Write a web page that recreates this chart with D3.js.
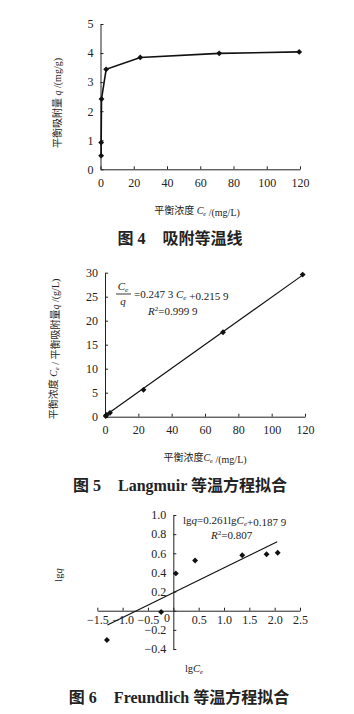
<!DOCTYPE html>
<html>
<head>
<meta charset="utf-8">
<script src="https://cdn.jsdelivr.net/npm/d3@7"></script>
<style>
  body { margin: 0; background: #fff; }
  text { font-family: "Liberation Serif", "Noto Sans CJK SC", serif; fill: #222; }
  .axis path, .axis line { stroke: #222; }
</style>
</head>
<body>
<svg id="fig" width="354" height="714"></svg>
<script>
//////////////////////////////////////////////////////////////////////////////
// Data

// Fig 4: adsorption isotherm
var ce4 = [0.4, 0.4, 0.6, 3.4, 23.9, 71.4, 119.5];
var q4  = [0.47, 0.92, 2.42, 3.44, 3.85, 3.99, 4.04];
var xTicks4 = [0, 20, 40, 60, 80, 100, 120];
var yTicks4 = [0, 1, 2, 3, 4, 5];

// Fig 5: Langmuir fit
var ce5 = [0.4, 0.9, 3.0, 23.1, 70.8, 118.6];
var ratio5 = [0.15, 0.35, 0.8, 5.6, 17.6, 29.6];
var fit5 = [[0, 0.22], [119, 29.6]];
var xTicks5 = [0, 20, 40, 60, 80, 100, 120];
var yTicks5 = [0, 5, 10, 15, 20, 25, 30];

// Fig 6: Freundlich fit
var lgce6 = [-1.31, -0.24, 0.05, 0.43, 1.36, 1.84, 2.06];
var lgq6  = [-0.306, -0.014, 0.39, 0.525, 0.58, 0.59, 0.605];
var fit6 = [[-1.3, -0.15], [2.05, 0.72]];
var xTicks6 = [-1.5, -1.0, -0.5, 0, 0.5, 1.0, 1.5, 2.0, 2.5];
var yTicks6 = [-0.4, -0.2, 0, 0.2, 0.4, 0.6, 0.8, 1.0];

//////////////////////////////////////////////////////////////////////////////

var svg = d3.select("#fig");
var diamond = d3.symbol().type(d3.symbolDiamond2).size(22);

function drawAxes(g, x, y, xt, yt, xFmt, yFmt, xAt, yAt, xPad)
{
    g.append("g")
        .attr("class", "axis")
        .attr("transform", "translate(0," + xAt + ")")
        .call(d3.axisBottom(x).tickValues(xt).tickSizeInner(-3).tickSizeOuter(0)
              .tickPadding(xPad).tickFormat(xFmt));
    g.append("g")
        .attr("class", "axis")
        .attr("transform", "translate(" + yAt + ",0)")
        .call(d3.axisLeft(y).tickValues(yt).tickSizeInner(-3).tickSizeOuter(0)
              .tickPadding(7).tickFormat(yFmt));
    g.selectAll(".axis text").attr("font-size", 12).attr("fill", "#222");
}

function points(g, xs, ys, x, y)
{
    g.append("g").selectAll("path")
        .data(xs)
        .enter()
        .append("path")
        .attr("d", diamond)
        .attr("fill", "#111")
        .attr("transform", function(d, i) { return "translate(" + x(d) + "," + y(ys[i]) + ")"; });
}

function caption(txt, cx, cy)
{
    var t = svg.append("text")
        .attr("x", cx).attr("y", cy)
        .attr("text-anchor", "middle")
        .attr("font-size", 16)
        .attr("font-weight", "bold")
        .attr("fill", "#111");
    t.append("tspan").text(txt[0]);
    t.append("tspan").attr("dx", 17).text(txt[1]);
}

// italic C with subscript e
function ceSpan(t)
{
    t.append("tspan").attr("font-style", "italic").text("C");
    t.append("tspan").attr("font-style", "italic").attr("font-size", "0.65em").attr("dy", 2).text("e");
    t.append("tspan").attr("dy", -2).text("");
}

//////////////////////////////////////////////////////////////////////////////
// Fig 4

var x4 = d3.scaleLinear().domain([0, 120]).range([100.5, 300]);
var y4 = d3.scaleLinear().domain([0, 5]).range([169.3, 24]);
var g4 = svg.append("g");
drawAxes(g4, x4, y4, xTicks4, yTicks4, d3.format("d"), d3.format("d"), y4(0), x4(0), 9);

g4.append("path")
    .datum(ce4)
    .attr("fill", "none")
    .attr("stroke", "#111")
    .attr("stroke-width", 1.6)
    .attr("d", d3.line().x(function(d) { return x4(d); }).y(function(d, i) { return y4(q4[i]); }));
points(g4, ce4, q4, x4, y4);

var t = g4.append("text").attr("font-size", 10)
    .attr("transform", "translate(61,103) rotate(-90)").attr("text-anchor", "middle");
t.append("tspan").text("平衡吸附量 ");
t.append("tspan").attr("font-style", "italic").text("q");
t.append("tspan").text(" /(mg/g)");

t = g4.append("text").attr("font-size", 10).attr("x", 197).attr("y", 214).attr("text-anchor", "middle");
t.append("tspan").text("平衡浓度 ");
ceSpan(t);
t.append("tspan").text(" /(mg/L)");

caption(["图 4", "吸附等温线"], 180, 244);

//////////////////////////////////////////////////////////////////////////////
// Fig 5

var x5 = d3.scaleLinear().domain([0, 120]).range([105, 305]);
var y5 = d3.scaleLinear().domain([0, 30]).range([416.7, 272.7]);
var g5 = svg.append("g");
drawAxes(g5, x5, y5, xTicks5, yTicks5, d3.format("d"), d3.format("d"), y5(0), x5(0), 9);

g5.append("path")
    .datum(fit5)
    .attr("fill", "none")
    .attr("stroke", "#111")
    .attr("stroke-width", 1.2)
    .attr("d", d3.line().x(function(d) { return x5(d[0]); }).y(function(d) { return y5(d[1]); }));
points(g5, ce5, ratio5, x5, y5);

// equation
g5.append("text").attr("x", 123).attr("y", 290).attr("text-anchor", "middle").attr("font-size", 11)
    .call(ceSpan);
g5.append("line").attr("x1", 116).attr("x2", 131).attr("y1", 294).attr("y2", 294)
    .attr("stroke", "#222").attr("stroke-width", 0.9);
g5.append("text").attr("x", 123).attr("y", 305).attr("text-anchor", "middle").attr("font-size", 11)
    .attr("font-style", "italic").text("q");
t = g5.append("text").attr("x", 134).attr("y", 298).attr("font-size", 11);
t.append("tspan").text("=0.247 3 ");
ceSpan(t);
t.append("tspan").text(" +0.215 9");
t = g5.append("text").attr("x", 148).attr("y", 315).attr("font-size", 11);
t.append("tspan").attr("font-style", "italic").text("R");
t.append("tspan").attr("font-size", "0.65em").attr("dy", -4).text("2");
t.append("tspan").attr("dy", 4).text("=0.999 9");

t = g5.append("text").attr("font-size", 10)
    .attr("transform", "translate(57,349) rotate(-90)").attr("text-anchor", "middle");
t.append("tspan").text("平衡浓度 ");
ceSpan(t);
t.append("tspan").text(" / 平衡吸附量");
t.append("tspan").attr("font-style", "italic").text("q");
t.append("tspan").text(" /(g/L)");

t = g5.append("text").attr("font-size", 10).attr("x", 205).attr("y", 461).attr("text-anchor", "middle");
t.append("tspan").text("平衡浓度");
ceSpan(t);
t.append("tspan").text(" /(mg/L)");

caption(["图 5", "Langmuir 等温方程拟合"], 180, 491);

//////////////////////////////////////////////////////////////////////////////
// Fig 6

var x6 = d3.scaleLinear().domain([-1.5, 2.5]).range([97.3, 300]);
var y6 = d3.scaleLinear().domain([-0.4, 1.0]).range([649, 515]);
var g6 = svg.append("g");
var fmt6 = function(d) { return d === 0 ? "" : d3.format(".1f")(d).replace("-", "\u2212"); };
drawAxes(g6, x6, y6, xTicks6, yTicks6, fmt6, fmt6, y6(0), x6(0), 5);

g6.append("text").attr("x", 167).attr("y", 622).attr("text-anchor", "middle")
    .attr("font-size", 12).text("0");

g6.append("path")
    .datum(fit6)
    .attr("fill", "none")
    .attr("stroke", "#111")
    .attr("stroke-width", 1.2)
    .attr("d", d3.line().x(function(d) { return x6(d[0]); }).y(function(d) { return y6(d[1]); }));
points(g6, lgce6, lgq6, x6, y6);

t = g6.append("text").attr("x", 183).attr("y", 524).attr("font-size", 11);
t.append("tspan").text("lg");
t.append("tspan").attr("font-style", "italic").text("q");
t.append("tspan").text("=0.261lg");
ceSpan(t);
t.append("tspan").text("+0.187 9");
t = g6.append("text").attr("x", 211).attr("y", 539).attr("font-size", 11);
t.append("tspan").attr("font-style", "italic").text("R");
t.append("tspan").attr("font-size", "0.65em").attr("dy", -4).text("2");
t.append("tspan").attr("dy", 4).text("=0.807");

t = g6.append("text").attr("font-size", 10.5)
    .attr("transform", "translate(62,575) rotate(-90)").attr("text-anchor", "middle");
t.append("tspan").text("lg");
t.append("tspan").attr("font-style", "italic").text("q");

t = g6.append("text").attr("font-size", 10.5).attr("x", 194).attr("y", 672).attr("text-anchor", "middle");
t.append("tspan").text("lg");
ceSpan(t);

caption(["图 6", "Freundlich 等温方程拟合"], 179, 703);
</script>
</body>
</html>
